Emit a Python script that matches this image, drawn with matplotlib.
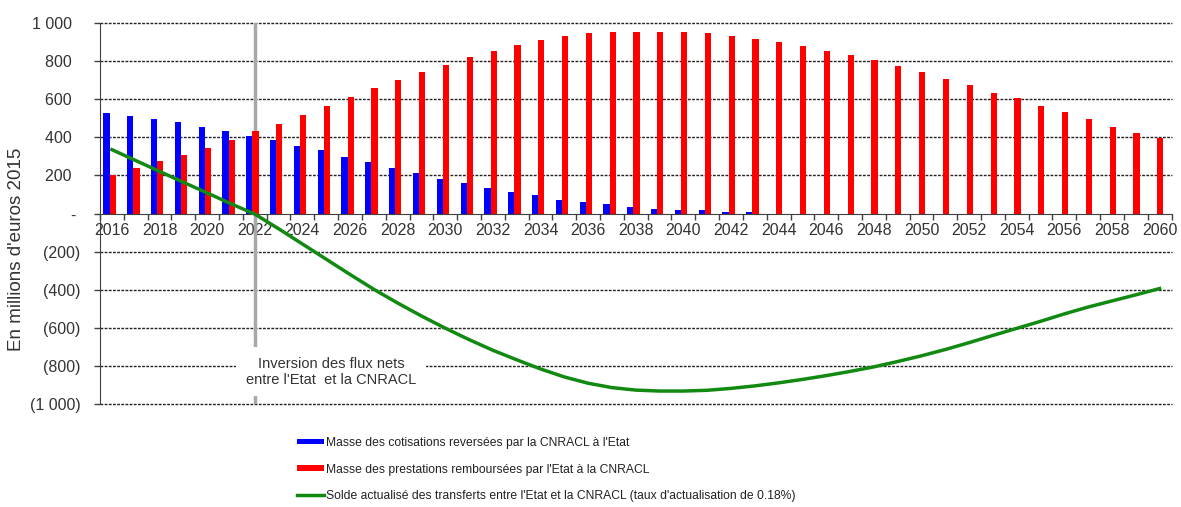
import matplotlib
matplotlib.use("Agg")
import matplotlib.pyplot as plt
import numpy as np
from matplotlib.ticker import FuncFormatter, FixedLocator

years = list(range(2016, 2061))
cotisations = [527, 511, 494, 480, 455, 433, 408, 384, 354, 332, 298, 269, 237, 213, 182,
               159, 134, 112, 96, 72, 58, 51, 33, 26, 19, 19, 10, 10, 0, 0,
               0, 0, 0, 0, 0, 0, 0, 0, 0, 0, 0, 0, 0, 0, 0]
prestations = [200, 237, 276, 307, 346, 384, 431, 471, 518, 565, 613, 660, 700, 745, 782,
               822, 853, 885, 909, 932, 946, 954, 954, 954, 954, 946, 932, 915, 900, 878,
               853, 831, 805, 775, 743, 705, 674, 635, 604, 564, 534, 496, 455, 424, 396]
solde = [335, 278, 221, 164, 108, 51, -3, -80, -160, -240, -320, -398, -470, -538, -602,
         -662, -718, -768, -816, -858, -891, -914, -927, -932, -932, -928, -918, -905, -889, -871,
         -851, -829, -805, -777, -747, -714, -678, -640, -603, -566, -527, -491, -459, -427, -394]

lab_blue = "Masse des cotisations reversées par la CNRACL à l'Etat"
lab_red = "Masse des prestations remboursées par l'Etat à la CNRACL"
lab_green = "Solde actualisé des transferts entre l'Etat et la CNRACL (taux d'actualisation de 0.18%)"
annot = "Inversion des flux nets\nentre l'Etat  et la CNRACL"
ylabel = "En millions d'euros 2015"

plt.rcParams['font.family'] = ['Liberation Sans', 'DejaVu Sans']

W, H = 1181, 507
fig = plt.figure(figsize=(W / 100, H / 100), dpi=100)
ax = fig.add_axes([100 / W, 1 - 404 / H, (1171.5 - 100) / W, (404 - 23) / H])

x = np.arange(len(years))
bw = 0.26
shift = -0.1
ax.bar(x + shift - bw / 2, cotisations, width=bw, color='#0000ff', zorder=3, label=lab_blue)
ax.bar(x + shift + bw / 2, prestations, width=bw, color='#ff0000', zorder=3, label=lab_red)
ax.plot(x, solde, color='#128a12', lw=2.5, zorder=4, label=lab_green)

ax.set_xlim(-0.5, len(years) - 0.5)
ax.set_ylim(-1000, 1000)

# grid
for v in [1000, 800, 600, 400, 200, -200, -400, -600, -800, -1000]:
    ax.axhline(v, color='#222222', lw=1.0, ls=(0, (2.0, 1.0)), zorder=1, clip_on=False)

# vertical marker line at 2022
i22 = years.index(2022)
ax.axvline(i22, color='#a8a8a8', lw=2.5, zorder=2)
ax.text(9.2, -830, annot, ha='center', va='center', fontsize=10.5, color='#333333',
        linespacing=1.2, zorder=5,
        bbox=dict(facecolor='white', edgecolor='none', pad=7))

# spines
for s in ['top', 'right']:
    ax.spines[s].set_visible(False)
ax.spines['bottom'].set_position(('data', 0))
ax.spines['bottom'].set_color('#404040')
ax.spines['left'].set_color('#404040')
ax.spines['bottom'].set_zorder(3.5)

# x ticks: boundaries as tick marks, labels at centers every 2 years
ax.xaxis.set_major_locator(FixedLocator(np.arange(len(years) + 1) - 0.5))
ax.xaxis.set_major_formatter(FuncFormatter(lambda v, p: ''))
lab_pos = [i for i, y in enumerate(years) if y % 2 == 0]
ax.xaxis.set_minor_locator(FixedLocator(lab_pos))
ax.xaxis.set_minor_formatter(FuncFormatter(lambda v, p: str(years[int(round(v))])))
ax.tick_params(axis='x', which='major', direction='out', length=4, width=1, color='#404040')
ax.tick_params(axis='x', which='minor', length=0, pad=7, labelsize=11.5, labelcolor='#333333')

def yfmt(v, p):
    v = int(round(v))
    if v == 0:
        return '- '
    s = f"{abs(v):,}".replace(',', ' ')
    return s + '  ' if v > 0 else f"({s})"

ax.set_yticks(np.arange(-1000, 1001, 200))
ax.yaxis.set_major_formatter(FuncFormatter(yfmt))
ax.tick_params(axis='y', direction='out', length=4, width=1, color='#404040',
               labelsize=11.5, labelcolor='#333333', pad=10)

fig.text(17 / W, 1 - 249 / H, ylabel, rotation=90, ha='center', va='center',
         fontsize=13.5, color='#333333')

h, l = ax.get_legend_handles_labels()
order = [1, 2, 0]
leg = fig.legend([h[i] for i in order], [l[i] for i in order], loc='upper left',
                 bbox_to_anchor=(297 / W, 1 - 437 / H), frameon=False,
                 prop={'family': ['Liberation Sans Narrow', 'Liberation Sans'], 'size': 8.7},
                 handlelength=2.2, handleheight=0.3, handletextpad=0.2,
                 labelspacing=1.2, borderpad=0, borderaxespad=0)
for t in leg.get_texts():
    t.set_color('#222222')

fig.savefig('out.png', dpi=100)
